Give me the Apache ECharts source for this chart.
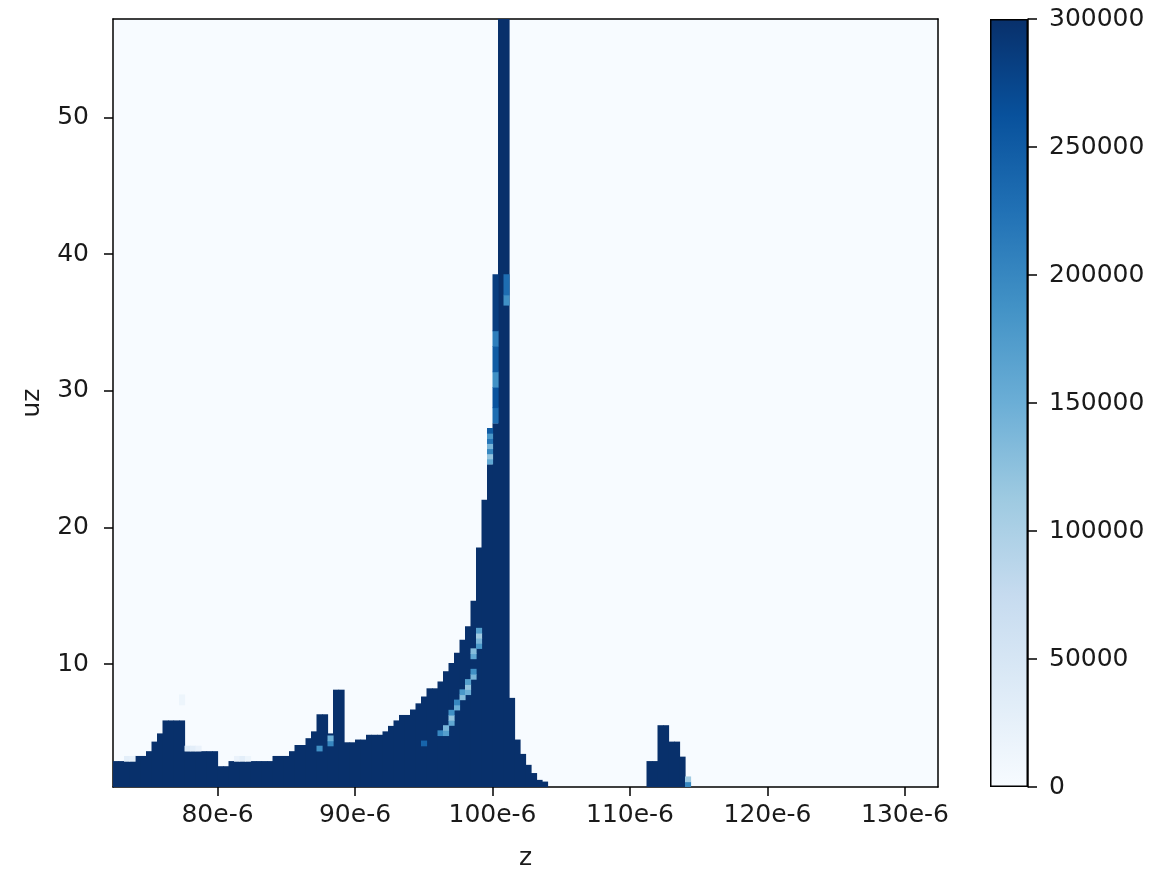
<!DOCTYPE html>
<html>
<head>
<meta charset="utf-8">
<title>uz vs z</title>
<script src="https://cdn.jsdelivr.net/npm/echarts@6.0.0/dist/echarts.min.js"></script>
<style>
  html, body { margin: 0; padding: 0; background: #fff; }
  #chart { width: 1163px; height: 880px; }
</style>
</head>
<body>
<div id="chart"></div>
<script>
// histogram extent and binning (z in units of 1e-6)
const Z_MIN = 72.4, Z_MAX = 132.4;
const UZ_MIN = 1.0, UZ_MAX = 57.2;
const Z_BIN = 0.4;
const COUNT_MAX = 300000;

const zTicks = [80, 90, 100, 110, 120, 130];
const uzTicks = [10, 20, 30, 40, 50];
const countTicks = [0, 50000, 100000, 150000, 200000, 250000, 300000];

// top of the saturated (>= 300000) region in each z bin, bin i starts at Z_MIN + i * Z_BIN
const darkTop = [
  2.875, 2.875, 2.875, 2.875, 3.25, 3.25, 3.6, 4.3, 4.9, 5.85,
  5.85, 5.85, 5.85, 3.6, 3.6, 3.6, 3.6, 3.6, 3.6, 2.5,
  2.5, 2.875, 2.875, 2.875, 2.875, 2.875, 2.875, 2.875, 2.875, 3.25,
  3.25, 3.25, 3.6, 4.05, 4.05, 4.55, 5.05, 6.3, 6.3, 4.9,
  8.1, 8.1, 4.25, 4.25, 4.45, 4.45, 4.8, 4.8, 4.8, 5.05,
  5.45, 5.85, 6.25, 6.25, 6.65, 7.1, 7.6, 8.2, 8.2, 8.7,
  9.45, 10.05, 10.8, 11.75, 12.75, 14.6, 18.5, 22.0, 24.6, 27.6,
  57.2, 57.2, 7.5, 4.45, 3.4, 2.6, 2.0, 1.5, 1.375, 0,
  0, 0, 0, 0, 0, 0, 0, 0, 0, 0,
  0, 0, 0, 0, 0, 0, 0, 2.875, 2.875, 5.5,
  5.5, 4.3, 4.3, 3.2
];

// cells below saturation: [z center, uz low, uz high, count]
const paleRuns = [
  [73.4, 2.875, 3.25, 30000], [73.8, 2.875, 3.25, 25000],
  [77.4, 7.0, 7.75, 15000],
  [77.8, 3.625, 4.0, 40000], [78.2, 3.625, 4.0, 30000], [78.6, 3.625, 4.0, 20000],
  [81.4, 2.875, 3.25, 20000], [81.8, 2.875, 3.25, 30000], [82.2, 2.875, 3.25, 15000],
  [87.4, 3.625, 4.0, 190000],
  [88.2, 4.0, 4.375, 200000], [88.2, 4.375, 4.75, 150000],
  [95.0, 4.0, 4.375, 240000],
  [96.2, 4.75, 5.125, 200000],
  [96.6, 4.75, 5.125, 170000], [96.6, 5.125, 5.5, 140000],
  [97.0, 5.5, 5.875, 160000], [97.0, 5.875, 6.25, 120000], [97.0, 6.25, 6.625, 190000],
  [97.4, 6.625, 7.0, 150000], [97.4, 7.0, 7.375, 200000],
  [97.8, 7.375, 7.75, 130000], [97.8, 7.75, 8.125, 180000],
  [98.2, 7.75, 8.125, 150000], [98.2, 8.125, 8.5, 120000], [98.2, 8.5, 8.875, 170000],
  [98.6, 8.875, 9.25, 140000], [98.6, 9.25, 9.625, 190000],
  [98.6, 10.375, 10.75, 160000], [98.6, 10.75, 11.125, 130000],
  [99.0, 11.125, 11.5, 180000], [99.0, 11.5, 11.875, 140000],
  [99.0, 11.875, 12.25, 110000], [99.0, 12.25, 12.625, 170000],
  [99.8, 24.625, 25.0, 160000], [99.8, 25.0, 25.375, 120000], [99.8, 25.375, 25.75, 200000],
  [99.8, 25.75, 26.125, 140000], [99.8, 26.125, 26.5, 220000], [99.8, 26.5, 26.875, 180000],
  [99.8, 26.875, 27.25, 250000],
  [100.2, 27.625, 28.75, 230000], [100.2, 28.75, 30.25, 260000], [100.2, 30.25, 31.375, 190000],
  [100.2, 31.375, 33.25, 250000], [100.2, 33.25, 34.375, 210000], [100.2, 34.375, 38.5, 285000],
  [101.0, 36.25, 37.0, 190000], [101.0, 37.0, 38.5, 230000],
  [114.2, 1.0, 1.375, 200000], [114.2, 1.375, 1.75, 110000]
];

// matplotlib "Blues"
const BLUES = ['#f7fbff', '#deebf7', '#c6dbef', '#9ecae1', '#6baed6',
               '#4292c6', '#2171b5', '#08519c', '#08306b'];

const darkRuns = darkTop
  .map((top, i) => [Z_MIN + (i + 0.5) * Z_BIN, UZ_MIN, top, COUNT_MAX])
  .filter(d => d[2] > UZ_MIN);

const textColor = '#1a1a1a';
const font = 'DejaVu Sans';

function renderRun(params, api) {
  const z = api.value(0);
  const a = api.coord([z - Z_BIN / 2, api.value(2)]);
  const b = api.coord([z + Z_BIN / 2, api.value(1)]);
  return {
    type: 'rect',
    shape: { x: a[0], y: a[1] - 0.3, width: b[0] - a[0] + 0.6, height: b[1] - a[1] + 0.6 },
    style: { fill: api.visual('color') }
  };
}

const chart = echarts.init(document.getElementById('chart'), null, { renderer: 'canvas' });

const frameLine = { show: true, lineStyle: { color: '#000', width: 1.5 } };
const labelBase = { fontFamily: font, fontSize: 25, color: textColor };

chart.setOption({
  animation: false,
  backgroundColor: '#fff',
  grid: [
    { left: 113, top: 19, width: 825, height: 768, show: true,
      backgroundColor: BLUES[0], borderWidth: 0 },
    { left: 990, top: 19, width: 38, height: 768 }
  ],
  visualMap: {
    type: 'continuous',
    show: false,
    min: 0,
    max: COUNT_MAX,
    dimension: 3,
    seriesIndex: [0, 1],
    inRange: { color: BLUES }
  },
  xAxis: [
    {
      type: 'value', gridIndex: 0, min: Z_MIN, max: Z_MAX,
      name: 'z', nameLocation: 'middle', nameGap: 59,
      nameTextStyle: { fontFamily: font, fontSize: 25, color: textColor },
      axisLine: frameLine,
      axisTick: { show: true, length: 9, customValues: zTicks, lineStyle: { color: '#000', width: 1.5 } },
      axisLabel: Object.assign({ margin: 16, customValues: zTicks, formatter: v => v + 'e-6' }, labelBase),
      splitLine: { show: false }
    },
    {
      type: 'value', gridIndex: 0, position: 'top', min: Z_MIN, max: Z_MAX,
      axisLine: frameLine, axisTick: { show: false }, axisLabel: { show: false },
      splitLine: { show: false }
    },
    {
      type: 'category', gridIndex: 1, data: ['count'], show: false
    }
  ],
  yAxis: [
    {
      type: 'value', gridIndex: 0, min: UZ_MIN, max: UZ_MAX,
      name: 'uz', nameLocation: 'middle', nameGap: 68,
      nameTextStyle: { fontFamily: font, fontSize: 25, color: textColor },
      axisLine: frameLine,
      axisTick: { show: true, length: 9, customValues: uzTicks, lineStyle: { color: '#000', width: 1.5 } },
      axisLabel: Object.assign({ margin: 24, customValues: uzTicks }, labelBase),
      splitLine: { show: false }
    },
    {
      type: 'value', gridIndex: 0, position: 'right', min: UZ_MIN, max: UZ_MAX,
      axisLine: frameLine, axisTick: { show: false }, axisLabel: { show: false },
      splitLine: { show: false }
    },
    {
      type: 'value', gridIndex: 1, position: 'right', min: 0, max: COUNT_MAX, interval: 50000,
      axisLine: frameLine,
      axisTick: { show: true, length: 9, lineStyle: { color: '#000', width: 1.5 } },
      axisLabel: Object.assign({ margin: 21, formatter: v => String(v) }, labelBase),
      splitLine: { show: false }
    }
  ],
  series: [
    {
      type: 'custom', name: 'saturated', xAxisIndex: 0, yAxisIndex: 0,
      clip: true, renderItem: renderRun, data: darkRuns
    },
    {
      type: 'custom', name: 'pale', xAxisIndex: 0, yAxisIndex: 0,
      clip: true, renderItem: renderRun, data: paleRuns
    },
    {
      type: 'bar', name: 'colorbar', xAxisIndex: 2, yAxisIndex: 2,
      barWidth: '100%', silent: true,
      data: [countTicks[countTicks.length - 1]],
      itemStyle: {
        color: {
          type: 'linear', x: 0, y: 1, x2: 0, y2: 0,
          colorStops: BLUES.map((c, i) => ({ offset: i / (BLUES.length - 1), color: c }))
        },
        borderColor: '#000',
        borderWidth: 1.5
      }
    }
  ]
});
</script>
</body>
</html>
